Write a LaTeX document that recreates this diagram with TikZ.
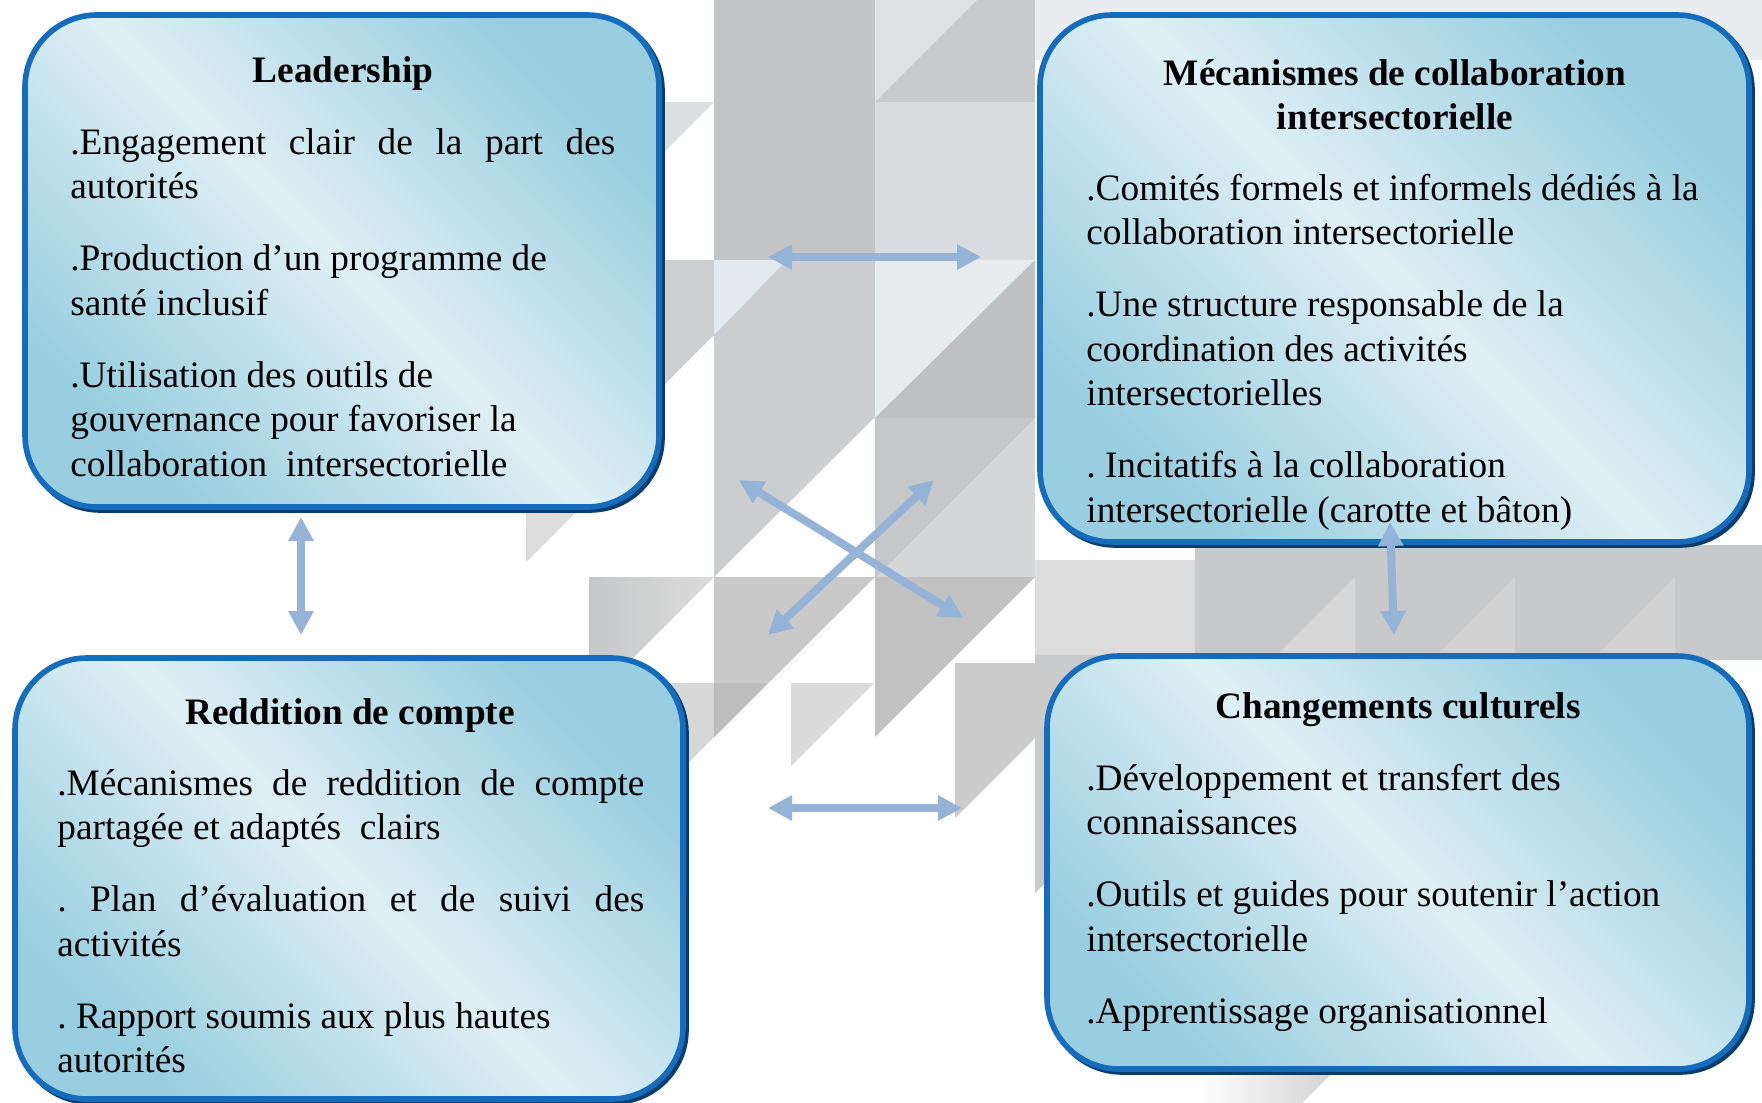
\documentclass[tikz,border=0pt]{standalone}
\usepackage{fontspec}
\setmainfont{Liberation Serif}
\usetikzlibrary{arrows.meta,calc}
\definecolor{boxdark}{HTML}{98CEDF}
\definecolor{boxlight}{HTML}{DFEFF5}
\definecolor{boxborder}{HTML}{166CBC}
\definecolor{boxshadow}{HTML}{0A3C6C}
\definecolor{arrowblue}{HTML}{95B3D7}
\definecolor{gA}{HTML}{C3C4C6}
\definecolor{gB}{HTML}{CBCDCE}
\definecolor{gLb}{HTML}{E2EAEE}
\definecolor{gC}{HTML}{CDCECF}
\definecolor{gD}{HTML}{DEDFE0}
\definecolor{gE}{HTML}{C8CACC}
\definecolor{gEl}{HTML}{DEE2E4}
\definecolor{gF}{HTML}{D8DCDF}
\definecolor{gG}{HTML}{E6EBEE}
\definecolor{gH}{HTML}{BFC0C2}
\definecolor{gI}{HTML}{D5D6D7}
\definecolor{gJ}{HTML}{C6C7C8}
\definecolor{gK}{HTML}{C9C9C9}
\definecolor{gL}{HTML}{C1C1C1}
\definecolor{gM}{HTML}{D7D7D7}
\definecolor{gN}{HTML}{DADADA}
\definecolor{gO}{HTML}{CBCBCB}
\definecolor{gP}{HTML}{BDBDBD}
\definecolor{gQ}{HTML}{DCDCDC}
\definecolor{gR}{HTML}{C8C9CA}
\definecolor{gS}{HTML}{D2D2D2}
\definecolor{gT}{HTML}{E9EDEF}
\newcommand{\jline}[2]{\leavevmode\hbox to #1{#2}}
\begin{document}
\begin{tikzpicture}[x=0.5pt,y=-0.5pt,
  box/.style={rectangle, rounded corners=36pt, draw=boxborder, line width=2.8pt,
    top color=boxdark, bottom color=boxdark, middle color=boxlight, shading angle=-45, inner sep=0pt},
  boxsh/.style={rectangle, rounded corners=36pt, draw=boxshadow, line width=2.8pt, inner sep=0pt},
  ttl/.style={font=\bfseries\frenchspacing\fontsize{18.65}{22.3}\selectfont, inner sep=0pt, anchor=base, text width=320pt, align=flush center},
  body/.style={font=\frenchspacing\fontsize{18.65}{22.3}\selectfont, inner sep=0pt, anchor=base west, align=flush left},
  arr/.style={draw=arrowblue, line width=4pt, {Triangle[length=12pt,width=12pt]}-{Triangle[length=12pt,width=12pt]}}]
\useasboundingbox[fill=white] (0,0) rectangle (1762,1103);

% ---------- background pattern ----------
\fill[gA] (714,0) -- (875,0) -- (875,260) -- (714,260) -- cycle;
\fill[gB] (714,260) -- (875,260) -- (875,417) -- (714,577) -- cycle;
\fill[gLb] (714,260) -- (787,260) -- (714,335) -- cycle;
\fill[gC] (600,260) -- (714,260) -- (714,335) -- (600,449) -- cycle;
\fill[gD] (560,102) -- (714,102) -- (560,256) -- cycle;
\fill[gE] (875,0) -- (1035,0) -- (1035,102) -- (875,102) -- cycle;
\fill[gEl] (875,0) -- (977,0) -- (875,102) -- cycle;
\fill[gF] (875,102) -- (1035,102) -- (1035,260) -- (875,260) -- cycle;
\fill[gG] (875,260) -- (1035,260) -- (875,418) -- cycle;
\fill[gH] (875,418) -- (1035,260) -- (1035,418) -- cycle;
\fill[gI] (875,418) -- (1035,418) -- (1035,577) -- (875,577) -- cycle;
\fill[gJ] (875,418) -- (1035,418) -- (875,578) -- cycle;
\fill[gT] (1035,0) -- (1762,0) -- (1762,60) -- (1035,60) -- cycle;
% row at 577
\shade[left color=gJ, right color=gQ] (589,577) -- (714,577) -- (589,702) -- cycle;
\fill[gK] (714,577) -- (875,577) -- (714,737) -- cycle;
\fill[gL] (875,577) -- (1035,577) -- (875,737) -- cycle;
\fill[gR] (1035,577) -- (1351,577) -- (1035,893) -- cycle;
\fill[gM] (600,683) -- (768,683) -- (600,851) -- cycle;
\fill[gP] (714,683) -- (768,683) -- (714,737) -- cycle;
\fill[gN] (791,683) -- (874,683) -- (791,766) -- cycle;
\fill[gO] (955,663) -- (1110,663) -- (955,818) -- cycle;
\fill[gQ] (526,497) -- (591,497) -- (526,562) -- cycle;
% band between right boxes
\fill[gQ] (1035,560) -- (1195,560) -- (1195,655) -- (1035,655) -- cycle;
\fill[gR] (1195,545) -- (1762,545) -- (1762,660) -- (1195,660) -- cycle;
\fill[gM] (1355,577) -- (1355,660) -- (1272,660) -- cycle;
\fill[gS] (1515,577) -- (1515,660) -- (1432,660) -- cycle;
\fill[gS] (1675,577) -- (1675,660) -- (1592,660) -- cycle;
\shade[left color=white, right color=gS] (1199,1070) -- (1335,1070) -- (1199,1206) -- cycle;

% ---------- boxes ----------
\node[boxsh, minimum width=317pt, minimum height=246pt] (leadsh) at (345,264) {};
\node[box, minimum width=317pt, minimum height=246pt] (lead) at (342,261) {};
\node[boxsh, minimum width=354.5pt, minimum height=263.5pt] (mecash) at (1397.5,281.5) {};
\node[box, minimum width=354.5pt, minimum height=263.5pt] (meca) at (1394.5,278.5) {};
\node[boxsh, minimum width=334pt, minimum height=220.5pt] (reddsh) at (352,881.5) {};
\node[box, minimum width=334pt, minimum height=220.5pt] (redd) at (349,878.5) {};
\node[boxsh, minimum width=351pt, minimum height=206.5pt] (chgsh) at (1401,865.5) {};
\node[box, minimum width=351pt, minimum height=206.5pt] (chg) at (1398,862.5) {};

% ---------- texts ----------
\node[ttl] (leadT) at (343,82) {Leadership};
\node[body, text width=272.5pt] (leadB) at (70,154) {%
\jline{272.5pt}{.Engagement\hfill clair\hfill de\hfill la\hfill part\hfill des}\\
autorités\\[13.7pt]
.Production d’un programme de\\
santé inclusif\\[13.7pt]
.Utilisation des outils de\\
gouvernance pour favoriser la\\
collaboration\ \ intersectorielle};

\node[ttl] (mecaT) at (1395,85) {Mécanismes de collaboration\\intersectorielle};
\node[body, text width=325pt] (mecaB) at (1086,200) {%
.Comités formels et informels dédiés à la\\
collaboration intersectorielle\\[13.7pt]
.Une structure responsable de la\\
coordination des activités\\
intersectorielles\\[13.7pt]
. Incitatifs à la collaboration\\
intersectorielle (carotte et bâton)};

\node[ttl] (reddT) at (350,724) {Reddition de compte};
\node[body, text width=293.5pt] (reddB) at (57,795) {%
\jline{293.5pt}{.Mécanismes\hfill de\hfill reddition\hfill de\hfill compte}\\
partagée et adaptés\ \ clairs\\[13.7pt]
\jline{293.5pt}{.\hfill Plan\hfill d’évaluation\hfill et\hfill de\hfill suivi\hfill des}\\
activités\\[13.7pt]
. Rapport soumis aux plus hautes\\
autorités};

\node[ttl] (chgT) at (1398,718) {Changements culturels};
\node[body, text width=325pt] (chgB) at (1086,790) {%
.Développement et transfert des\\
connaissances\\[13.7pt]
.Outils et guides pour soutenir l’action\\
intersectorielle\\[13.7pt]
.Apprentissage organisationnel};

% ---------- connectors ----------
\coordinate (a1) at (768,257);  \coordinate (b1) at (981,257);
\coordinate (a2) at (301,517);  \coordinate (b2) at (301,635);
\coordinate (a3) at (1390,522); \coordinate (b3) at (1394,635);
\coordinate (a4) at (768,808);  \coordinate (b4) at (962,808);
\coordinate (a5) at (739,480);  \coordinate (b5) at (963,618);
\coordinate (a6) at (934,480);  \coordinate (b6) at (768,635);
\draw[arr] (a1) -- (b1);
\draw[arr] (a2) -- (b2);
\draw[arr] (a3) -- (b3);
\draw[arr] (a4) -- (b4);
\draw[arr] (a5) -- (b5);
\draw[arr] (a6) -- (b6);
\end{tikzpicture}
\end{document}
